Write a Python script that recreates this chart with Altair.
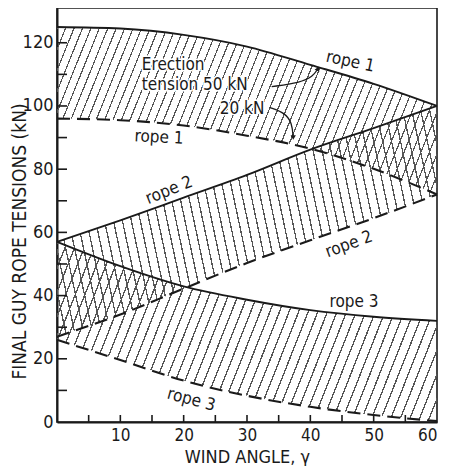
import altair as alt
import pandas as pd

# ---------------- data ----------------
wind_angle = [0, 10, 20, 30, 40, 50, 60]
rope1_50kN = [125, 124.5, 122.5, 118.8, 113, 107, 100]
rope1_20kN = [96, 95.5, 93.8, 90.6, 86.5, 80.1, 72]
rope2_50kN = [57, 63.8, 71, 78.2, 86.2, 93, 100]
rope2_20kN = [27, 34, 42.2, 50.3, 57.5, 64.5, 72]
rope3_50kN = [57, 49.3, 42.9, 38.7, 35.4, 33.3, 32]
rope3_20kN = [26, 19.6, 13.1, 8.3, 4.8, 2.2, 0.3]

y_label_values = [0, 20, 40, 60, 80, 100, 120]
x_label_values = [10, 20, 30, 40, 50, 60]
y_tick_values = [10, 20, 30, 40, 50, 60, 70, 80, 90, 100, 110, 120]
x_tick_values = [5, 10, 15, 20, 25, 30, 35, 40, 45, 50, 55]

label_text = ["rope 1", "rope 1", "rope 2", "rope 2", "rope  3", "rope 3"]
label_x = [46.3, 16.1, 17.7, 46.1, 46.9, 21.2]
label_y = [114, 90, 73.3, 56.2, 37.9, 7]
label_angle = [12, 3, 338, 340, 0, 15]

note_text = ["Erection", "tension 50 kN", "20 kN"]
note_x = [13.4, 13.4, 25.7]
note_y = [113, 106.7, 99.1]

arrow50_x = [33.9, 38.4, 40.4, 41.2]
arrow50_y = [106.1, 107.4, 109.3, 111.8]
arrow20_x = [33.6, 36.0, 37.1, 37.3]
arrow20_y = [99.5, 97.8, 94.7, 90.0]

# ---------------- tables ----------------
rows = []
for rope, hi, lo in [("1", rope1_50kN, rope1_20kN),
                     ("2", rope2_50kN, rope2_20kN),
                     ("3", rope3_50kN, rope3_20kN)]:
    for x, h, l in zip(wind_angle, hi, lo):
        rows.append({"x": x, "rope": rope, "t50": h, "t20": l})
df = pd.DataFrame(rows)

labels = pd.DataFrame({"text": label_text, "x": label_x, "y": label_y, "angle": label_angle})
notes = pd.DataFrame({"text": note_text, "x": note_x, "y": note_y})
arrows = pd.DataFrame({
    "x": arrow50_x + arrow20_x,
    "y": arrow50_y + arrow20_y,
    "arrow": ["a"] * 4 + ["b"] * 4,
    "i": list(range(4)) * 2,
})
heads = pd.DataFrame({"x": [arrow50_x[-1], arrow20_x[-1]],
                      "y": [arrow50_y[-1], arrow20_y[-1]],
                      "ang": [25, 180]})

FONT = "'DejaVu Sans Condensed', 'DejaVu Sans', sans-serif"
INK = "#1a1a1a"

W, H = 380, 414
xs = alt.Scale(domain=[0, 60], nice=False)
ys = alt.Scale(domain=[0, 131], nice=False)


def hatch(dx, dy, bw, bh, spacing, frac=0.15, color="#555555"):
    """Striped linear gradient: stripes run along pixel direction (dx, dy)."""
    a = 1.0
    b = -a * (dx / bw) / (dy / bh)
    if b >= 0:
        k = (a + b) / (a * a + b * b)
        x1, y1, x2, y2 = 0, 0, k * a, k * b
    else:
        k = (a - b) / (a * a + b * b)
        x1, y1, x2, y2 = 0, 1, k * a, 1 + k * b
    n = int(round((a + abs(b)) * bw / (a * spacing)))
    clear = "rgba(255,255,255,0)"
    stops = []
    for i in range(n):
        s = i / n
        e = (i + frac) / n
        stops += [alt.GradientStop(offset=s, color=clear),
                  alt.GradientStop(offset=s, color=color),
                  alt.GradientStop(offset=e, color=color),
                  alt.GradientStop(offset=e, color=clear)]
    stops.append(alt.GradientStop(offset=1, color=clear))
    return alt.Gradient(gradient="linear", stops=stops, x1=x1, y1=y1, x2=x2, y2=y2)


base = alt.Chart(df)

band_specs = [("1", hatch(20, -50, 380, 169, 8.5)),
              ("2", hatch(10, 47, 380, 231, 9.0)),
              ("3", hatch(17, -43, 380, 179, 9.5))]
bands = []
for rope, grad in band_specs:
    bands.append(
        base.transform_filter(alt.datum.rope == rope)
        .mark_area(interpolate="monotone", fill=grad)
        .encode(x=alt.X("x:Q", scale=xs), y=alt.Y("t50:Q", scale=ys), y2="t20:Q")
    )

x_axis = alt.Axis(values=x_label_values, ticks=False, grid=False, domainColor=INK,
                  domainWidth=2, labelFontSize=17, labelPadding=5, labelColor=INK,
                  labelFont=FONT, title="WIND ANGLE, γ", titleFont=FONT, titleFontSize=18,
                  titleFontWeight="normal", titleColor=INK, titleY=35, titleBaseline="middle")
y_axis = alt.Axis(values=y_label_values, ticks=False, grid=False, domainColor=INK,
                  domainWidth=2, labelFontSize=18, labelPadding=4, labelColor=INK,
                  labelFont=FONT, title="FINAL GUY ROPE TENSIONS (kN)", titleFont=FONT,
                  titleFontSize=19, titleFontWeight="normal", titleColor=INK,
                  titleX=-38, titleY=233, titleAngle=270, titleAlign="center",
                  titleBaseline="middle")

solid = base.mark_line(interpolate="monotone", color=INK, strokeWidth=1.9).encode(
    x=alt.X("x:Q", scale=xs, axis=x_axis),
    y=alt.Y("t50:Q", scale=ys, axis=y_axis),
    detail="rope:N",
)
dashed = base.mark_line(interpolate="monotone", color=INK, strokeWidth=2.1,
                        strokeDash=[13, 7]).encode(
    x=alt.X("x:Q", scale=xs), y=alt.Y("t20:Q", scale=ys), detail="rope:N")

yticks = alt.Chart(pd.DataFrame({"v": y_tick_values})).mark_rule(
    color=INK, strokeWidth=1.6).encode(
    y=alt.Y("v:Q", scale=ys), x=alt.value(0), x2=alt.value(10))
xticks = alt.Chart(pd.DataFrame({"v": x_tick_values})).mark_rule(
    color=INK, strokeWidth=1.6).encode(
    x=alt.X("v:Q", scale=xs), y=alt.value(H), y2=alt.value(H - 7))

label_enc = dict(x=alt.X("x:Q", scale=xs), y=alt.Y("y:Q", scale=ys), text="text:N",
                 angle=alt.Angle("angle:Q", scale=None))
rope_labels = alt.Chart(labels).mark_text(
    font=FONT, fontSize=17, color=INK, align="center", baseline="middle").encode(**label_enc)

note_enc = dict(x=alt.X("x:Q", scale=xs), y=alt.Y("y:Q", scale=ys), text="text:N")
note_halo = alt.Chart(notes).mark_text(
    font=FONT, fontSize=17, color="white", stroke="white", strokeWidth=3,
    align="left", baseline="middle").encode(**note_enc)
note_left = alt.Chart(notes).mark_text(
    font=FONT, fontSize=17, color=INK, align="left", baseline="middle").encode(**note_enc)

arrow_lines = alt.Chart(arrows).mark_line(
    interpolate="basis", color=INK, strokeWidth=1.3).encode(
    x=alt.X("x:Q", scale=xs), y=alt.Y("y:Q", scale=ys), detail="arrow:N", order="i:Q")
arrow_heads = alt.Chart(heads).mark_point(
    shape="triangle-up", filled=True, color=INK, size=28, opacity=1).encode(
    x=alt.X("x:Q", scale=xs), y=alt.Y("y:Q", scale=ys),
    angle=alt.Angle("ang:Q", scale=None))

chart = alt.layer(
    *bands, solid, dashed, yticks, xticks, rope_labels, note_halo, note_left,
    arrow_lines, arrow_heads
).properties(
    width=W, height=H,
    autosize=alt.AutoSizeParams(type="none"),
    padding={"left": 49, "top": 0, "right": 4, "bottom": 44},
    background="white",
).configure_view(stroke=INK, strokeWidth=1.6)

chart.save("out.html", embed_options={"renderer": "svg", "actions": False})
